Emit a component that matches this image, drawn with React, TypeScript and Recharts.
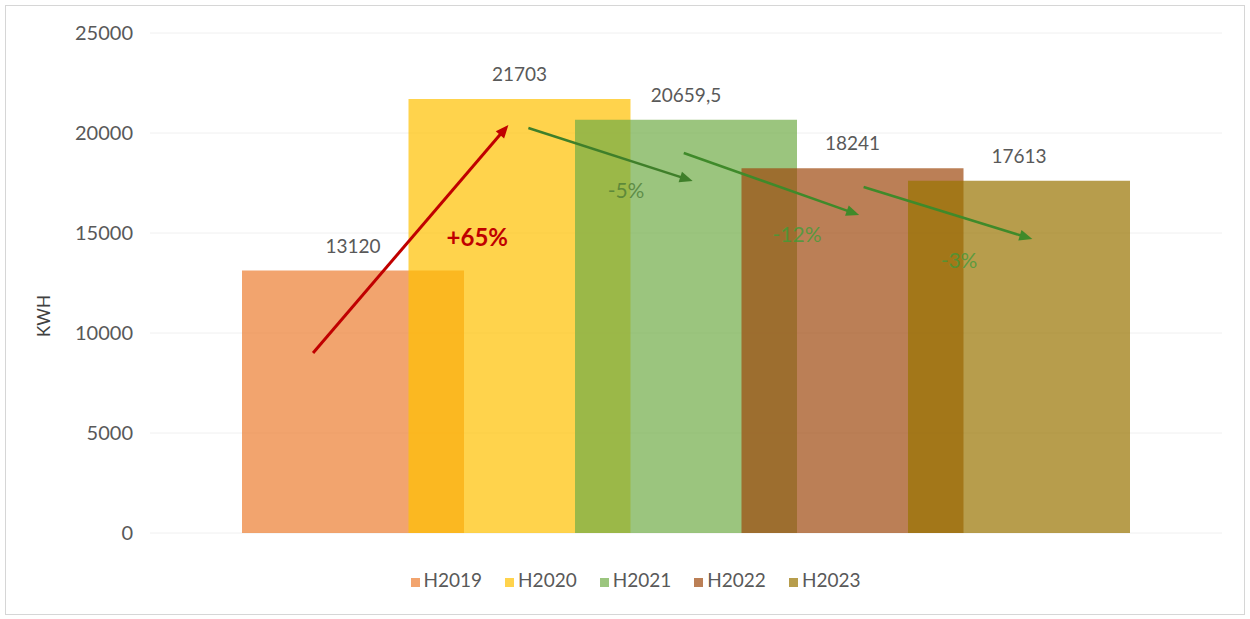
import { BarChart, Bar, YAxis, XAxis, CartesianGrid, Legend, LabelList } from 'recharts';

const categories = ['Consumo'];
const seriesNames = ['H2019', 'H2020', 'H2021', 'H2022', 'H2023'];
const seriesValues = [13120, 21703, 20659.5, 18241, 17613];
const yTicks = [0, 5000, 10000, 15000, 20000, 25000];
const changeLabels = ['+65%', '-5%', '-12%', '-3%'];

const COLORS = ['#ED7D31B3', '#FFC000B3', '#70AD47B3', '#9E480EB3', '#997300B3'];
const BAR_SIZE = 222;
const BAR_GAP = -55.5;
const STEP = BAR_SIZE + BAR_GAP;
const FONT = 'Lato, "Open Sans", sans-serif';

const data = categories.map((name) => {
    const row: Record<string, string | number> = { name };
    seriesNames.forEach((s, i) => {
        row[s] = seriesValues[i];
    });
    return row;
});

// arrow going into bar i (index 1..4), positions as fraction of bar width + value level
const arrowSpecs = [
    { fromFrac: 0.32, fromVal: 9000, toFrac: 0.45, toVal: 20400, color: '#C00000', w: 3 },
    { fromFrac: 0.54, fromVal: 20250, toFrac: 0.53, toVal: 17600, color: '#3F7F2A', w: 2.5 },
    { fromFrac: 0.49, fromVal: 19000, toFrac: 0.53, toVal: 15900, color: '#3F8A2A', w: 2.5 },
    { fromFrac: 0.55, fromVal: 17300, toFrac: 0.56, toVal: 14700, color: '#3F8A2A', w: 2.5 },
];
// change text, relative to the target bar
const textSpecs = [
    { frac: 0.31, val: 14850, color: '#C00000', bold: true, size: 24 },
    { frac: 0.23, val: 17200, color: '#4A7A35', bold: false, size: 21 },
    { frac: 0.25, val: 15000, color: '#38A038', bold: false, size: 21 },
    { frac: 0.23, val: 13700, color: '#3E9A3A', bold: false, size: 21 },
];

const fmt = (v: number) => String(v).replace('.', ',');

const arrowHead = (x1: number, y1: number, x2: number, y2: number, color: string) => {
    const a = Math.atan2(y2 - y1, x2 - x1);
    const len = 13;
    const hw = 5.5;
    const bx = x2 - len * Math.cos(a);
    const by = y2 - len * Math.sin(a);
    const px = -Math.sin(a) * hw;
    const py = Math.cos(a) * hw;
    return <polygon points={`${x2},${y2} ${bx + px},${by + py} ${bx - px},${by - py}`} fill={color} />;
};

const makeLabel = (i: number) => (props: any) => {
    const vb = props.viewBox ?? props;
    const x = Number(props.x ?? vb.x);
    const y = Number(props.y ?? vb.y);
    const width = Number(props.width ?? vb.width);
    const height = Number(props.height ?? vb.height);
    const value = Number(props.value);
    const toY = (v: number) => y + height - (v * height) / value;

    const arrow = i > 0 ? arrowSpecs[i - 1] : null;
    const txt = i > 0 ? textSpecs[i - 1] : null;
    let arrowEl = null;
    if (arrow) {
        const x1 = x - STEP + arrow.fromFrac * width;
        const y1 = toY(arrow.fromVal);
        const x2 = x + arrow.toFrac * width;
        const y2 = toY(arrow.toVal);
        const a = Math.atan2(y2 - y1, x2 - x1);
        arrowEl = (
            <g>
                <line x1={x1} y1={y1} x2={x2 - 10 * Math.cos(a)} y2={y2 - 10 * Math.sin(a)} stroke={arrow.color} strokeWidth={arrow.w} />
                {arrowHead(x1, y1, x2, y2, arrow.color)}
            </g>
        );
    }
    return (
        <g>
            <text x={x + width / 2} y={y - 18} textAnchor="middle" fill="#595959" fontSize={19} fontFamily={FONT}>
                {fmt(value)}
            </text>
            {txt && (
                <text
                    x={x + txt.frac * width}
                    y={toY(txt.val)}
                    textAnchor="middle"
                    dominantBaseline="central"
                    fill={txt.color}
                    fillOpacity={txt.bold ? 1 : 0.75}
                    fontWeight={txt.bold ? 700 : 400}
                    fontSize={txt.size}
                    fontFamily={FONT}
                >
                    {changeLabels[i - 1]}
                </text>
            )}
            {arrowEl}
        </g>
    );
};

const App = () => {
    return (
        <div style={{ position: 'absolute', left: 0, top: 0, width: 1250, height: 619, background: '#fff' }}>
            <div
                style={{
                    position: 'absolute',
                    left: 5,
                    top: 5,
                    width: 1240,
                    height: 610,
                    border: '1px solid #d6d6d6',
                    boxSizing: 'border-box',
                }}
            />
            <div style={{ position: 'absolute', left: 0, top: 0 }}>
                <BarChart
                    width={1250}
                    height={619}
                    data={data}
                    margin={{ top: 33, right: 28, left: 0, bottom: 63 }}
                    barSize={BAR_SIZE}
                    barGap={BAR_GAP}
                >
                    <CartesianGrid vertical={false} stroke="#f0f0f0" />
                    <XAxis dataKey="name" hide />
                    <YAxis
                        width={150}
                        domain={[0, 25000]}
                        ticks={yTicks}
                        axisLine={false}
                        tickLine={false}
                        tickMargin={11}
                        tick={{ fill: '#595959', fontSize: 20, fontFamily: FONT }}
                        label={(p: any) => {
                            const vb = p.viewBox;
                            return (
                                <text
                                    x={43}
                                    y={vb.y + vb.height / 2 + 33}
                                    transform={`rotate(-90, 43, ${vb.y + vb.height / 2 + 33})`}
                                    textAnchor="middle"
                                    dominantBaseline="central"
                                    fill="#404040"
                                    fontSize={17}
                                    fontFamily={FONT}
                                >
                                    KWH
                                </text>
                            );
                        }}
                    />
                    <Legend
                        iconType="square"
                        iconSize={9}
                        wrapperStyle={{ top: 568, left: 22, width: 1250, fontFamily: FONT, fontSize: 19 }}
                        formatter={(value: string) => (
                            <span style={{ color: '#595959', paddingRight: 13 }}>{value}</span>
                        )}
                    />
                    {seriesNames.map((s, i) => (
                        <Bar key={s} dataKey={s} fill={COLORS[i]} isAnimationActive={false}>
                            <LabelList dataKey={s} content={makeLabel(i)} />
                        </Bar>
                    ))}
                </BarChart>
            </div>
        </div>
    );
};

export default App;
